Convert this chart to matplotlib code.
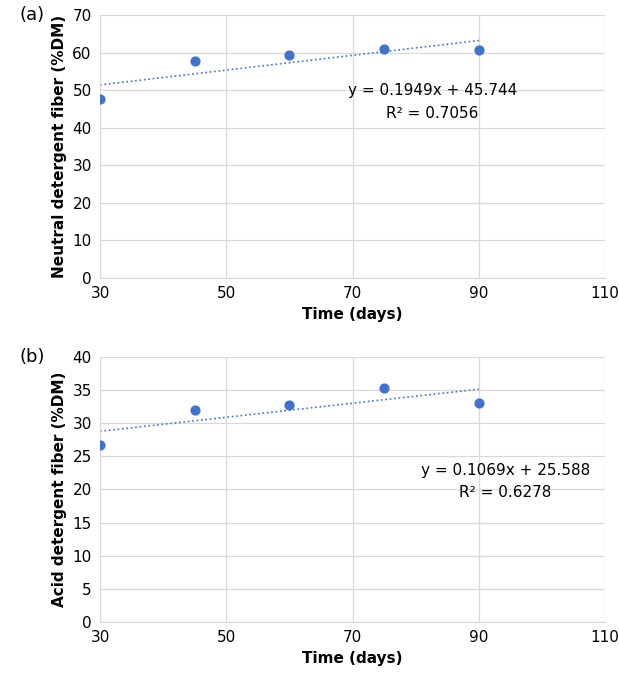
import numpy as np
import matplotlib.pyplot as plt

days = np.array([30, 45, 60, 75, 90])
ndf = np.array([47.7, 57.7, 59.3, 61.0, 60.8])
adf = np.array([26.7, 32.0, 32.8, 35.3, 33.0])

fig = plt.figure(figsize=(6.19, 6.91), dpi=100)
ax_a = fig.add_axes([0.1616, 0.5977, 0.816, 0.3806])
ax_b = fig.add_axes([0.1616, 0.0999, 0.816, 0.3835])

panels = [
    (ax_a, ndf, "Neutral detergent fiber (%DM)", 70, 10, "(a)",
     "y = 0.1949x + 45.744", "R² = 0.7056", (82.6, 50.0, 43.9)),
    (ax_b, adf, "Acid detergent fiber (%DM)", 40, 5, "(b)",
     "y = 0.1069x + 25.588", "R² = 0.6278", (94.2, 22.9, 19.5)),
]

for ax, y, ylab, ymax, ystep, tag, eq, r2, (tx, ty1, ty2) in panels:
    m, q = np.polyfit(days, y, 1)
    xl = np.array([30, 90])
    ax.plot(xl, m * xl + q, color="#4472C4", linestyle=":", linewidth=1.2)
    ax.scatter(days, y, color="#4472C4", s=40, zorder=3)
    ax.set_xlim(30, 110)
    ax.set_ylim(0, ymax)
    ax.set_xticks(range(30, 111, 20))
    ax.set_yticks(range(0, ymax + 1, ystep))
    ax.grid(True, color="#D9D9D9", linewidth=0.9)
    ax.set_axisbelow(True)
    for s in ["top", "right"]:
        ax.spines[s].set_visible(False)
    ax.spines["left"].set_color("#D9D9D9")
    ax.spines["bottom"].set_color("#D9D9D9")
    ax.tick_params(length=0, labelsize=11, pad=6)
    ax.set_xlabel("Time (days)", fontsize=11, fontweight="bold")
    ax.set_ylabel(ylab, fontsize=11, fontweight="bold")
    ax.text(tx, ty1, eq, ha="center", va="center", fontsize=11)
    ax.text(tx, ty2, r2, ha="center", va="center", fontsize=11)
    ax.text(-0.16, 1.0, tag, transform=ax.transAxes, fontsize=13, va="center")

fig.savefig("out.png", dpi=100)
